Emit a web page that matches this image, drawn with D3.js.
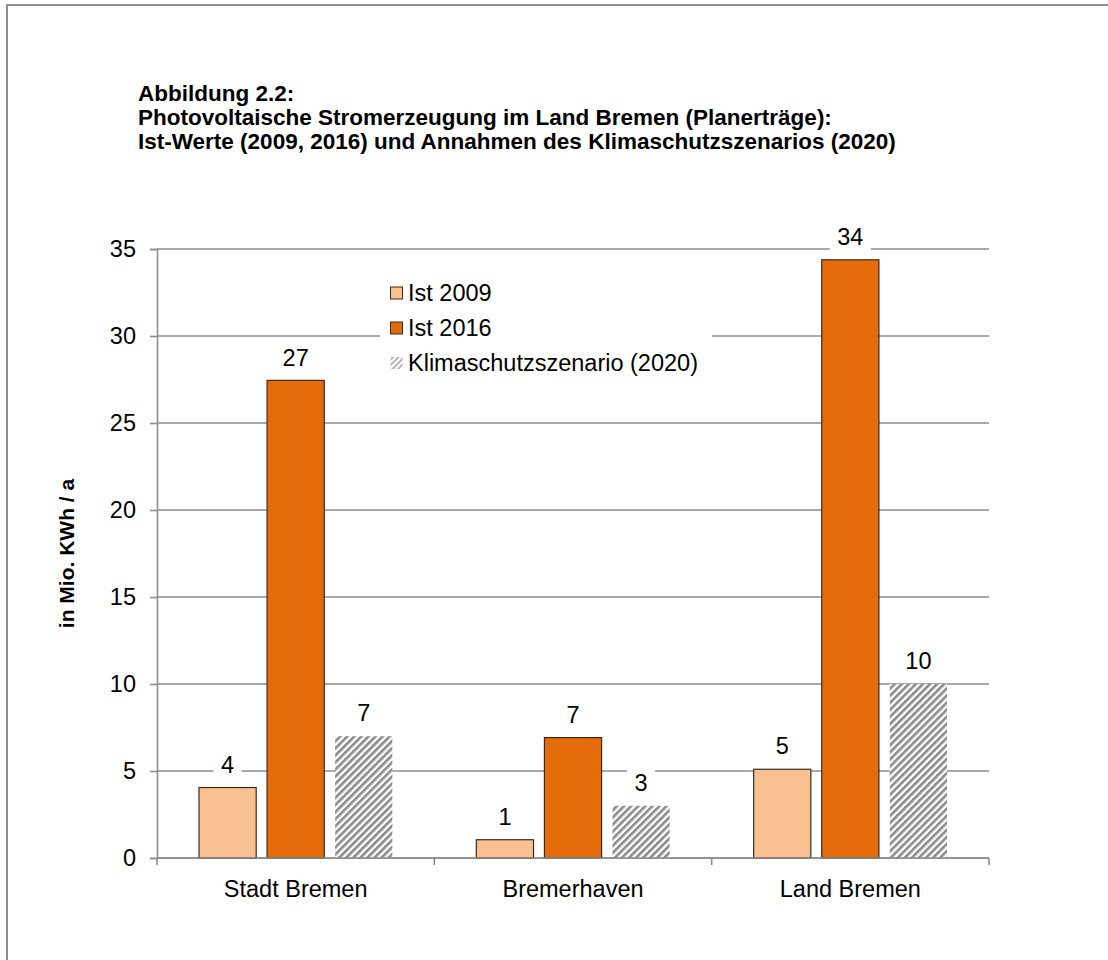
<!DOCTYPE html>
<html>
<head>
<meta charset="utf-8">
<script src="https://cdn.jsdelivr.net/npm/d3@7"></script>
<style>
  html, body { margin: 0; padding: 0; background: #fff; }
  svg { display: block; font-family: "Liberation Sans", Arial, sans-serif; }
</style>
</head>
<body>
<svg id="chart" width="1108" height="960"></svg>
<script>
// Regions and series
const categories = ["Stadt Bremen", "Bremerhaven", "Land Bremen"];
const seriesNames = ["Ist 2009", "Ist 2016", "Klimaschutzszenario (2020)"];
const ist2009 = [4.05, 1.05, 5.1];
const ist2016 = [27.45, 6.92, 34.38];
const szenario2020 = [7.0, 3.0, 10.0];
const valueLabels2009 = ["4", "1", "5"];
const valueLabels2016 = ["27", "7", "34"];
const valueLabels2020 = ["7", "3", "10"];
const yTicks = [0, 5, 10, 15, 20, 25, 30, 35];
const titleLines = [
  "Abbildung 2.2:",
  "Photovoltaische Stromerzeugung im Land Bremen (Planerträge):",
  "Ist-Werte (2009, 2016) und Annahmen des Klimaschutzszenarios (2020)"
];
const yAxisTitle = "in Mio. KWh / a";

const FONT = 23.5;
const svg = d3.select("#chart");

// Hatch pattern for the scenario bars
const defs = svg.append("defs");
const hatch = defs.append("pattern")
  .attr("id", "hatch")
  .attr("patternUnits", "userSpaceOnUse")
  .attr("width", 5).attr("height", 5)
  .attr("patternTransform", "rotate(45)");
hatch.append("rect").attr("width", 5).attr("height", 5).attr("fill", "#fff");
hatch.append("rect").attr("x", 0).attr("width", 2.6).attr("height", 5).attr("fill", "#8a8a8a");

const hatchLight = defs.append("pattern")
  .attr("id", "hatchLight")
  .attr("patternUnits", "userSpaceOnUse")
  .attr("width", 4).attr("height", 4)
  .attr("patternTransform", "rotate(45)");
hatchLight.append("rect").attr("width", 4).attr("height", 4).attr("fill", "#fff");
hatchLight.append("rect").attr("width", 2).attr("height", 4).attr("fill", "#b5b5b5");

// Outer frame
svg.append("rect")
  .attr("x", 7).attr("y", 5)
  .attr("width", 1200).attr("height", 1100)
  .attr("fill", "none")
  .attr("stroke", "#8c8c8c")
  .attr("stroke-width", 2);

// Title
svg.append("g").selectAll("text")
  .data(titleLines)
  .join("text")
  .attr("x", 138)
  .attr("y", (d, i) => 101 + i * 24)
  .attr("font-size", 22.5)
  .attr("font-weight", "bold")
  .attr("fill", "#000")
  .text(d => d);

// Plot area
const plot = { left: 157, right: 989, top: 249, bottom: 858 };

const x0 = d3.scaleBand()
  .domain(categories)
  .range([plot.left, plot.right])
  .paddingInner(0)
  .paddingOuter(0);

const x1 = d3.scaleBand()
  .domain(seriesNames)
  .range([42, x0.bandwidth() - 42])
  .paddingInner(0.16)
  .paddingOuter(0);

const y = d3.scaleLinear()
  .domain([0, 35])
  .range([plot.bottom, plot.top]);

// Horizontal gridlines
svg.append("g").selectAll("line")
  .data(yTicks.filter(t => t > 0))
  .join("line")
  .attr("x1", plot.left).attr("x2", plot.right)
  .attr("y1", d => y(d)).attr("y2", d => y(d))
  .attr("stroke", "#8c8c8c")
  .attr("stroke-width", 1.6);

// Y axis
const yAxis = d3.axisLeft(y).tickValues(yTicks).tickSize(7).tickPadding(14);
const yg = svg.append("g")
  .attr("transform", `translate(${plot.left},0)`)
  .call(yAxis);
yg.select(".domain").attr("stroke", "#8c8c8c").attr("stroke-width", 1.6);
yg.selectAll(".tick line").attr("stroke", "#8c8c8c").attr("stroke-width", 1.6);
yg.selectAll(".tick text")
  .attr("font-size", FONT)
  .attr("font-family", "Liberation Sans, Arial, sans-serif")
  .attr("fill", "#000");

// X axis
const xAxis = d3.axisBottom(x0).tickSize(0).tickPadding(22);
const xg = svg.append("g")
  .attr("transform", `translate(0,${plot.bottom})`)
  .call(xAxis);
xg.select(".domain").remove();
xg.selectAll(".tick text")
  .attr("font-size", FONT)
  .attr("font-family", "Liberation Sans, Arial, sans-serif")
  .attr("fill", "#000");
xg.append("line")
  .attr("x1", plot.left).attr("x2", plot.right)
  .attr("y1", 0).attr("y2", 0)
  .attr("stroke", "#8c8c8c").attr("stroke-width", 1.6);
xg.selectAll("line.sep")
  .data(categories.map((c, i) => i).concat([categories.length]))
  .join("line")
  .attr("class", "sep")
  .attr("x1", i => plot.left + i * x0.bandwidth())
  .attr("x2", i => plot.left + i * x0.bandwidth())
  .attr("y1", 0).attr("y2", 7)
  .attr("stroke", "#8c8c8c").attr("stroke-width", 1.6);

// Y axis title
svg.append("text")
  .attr("transform", `translate(74,${(plot.top + plot.bottom) / 2}) rotate(-90)`)
  .attr("text-anchor", "middle")
  .attr("font-size", 21)
  .attr("font-weight", "bold")
  .attr("fill", "#000")
  .text(yAxisTitle);

// Bars
const series = [
  { name: seriesNames[0], values: ist2009, labels: valueLabels2009, fill: "#F9C091", stroke: "#3b2a1c" },
  { name: seriesNames[1], values: ist2016, labels: valueLabels2016, fill: "#E46C0A", stroke: "#3b2a1c" },
  { name: seriesNames[2], values: szenario2020, labels: valueLabels2020, fill: "url(#hatch)", stroke: "none" }
];

const rows = [];
series.forEach(s => {
  categories.forEach((c, i) => {
    rows.push({ cat: c, series: s, value: s.values[i], label: s.labels[i] });
  });
});

svg.append("g").selectAll("rect")
  .data(rows)
  .join("rect")
  .attr("x", d => x0(d.cat) + x1(d.series.name))
  .attr("y", d => y(d.value))
  .attr("width", x1.bandwidth())
  .attr("height", d => y(0) - y(d.value))
  .attr("fill", d => d.series.fill)
  .attr("stroke", d => d.series.stroke)
  .attr("stroke-width", 1.2);

// Redraw baseline over bar bottoms
svg.append("line")
  .attr("x1", plot.left).attr("x2", plot.right)
  .attr("y1", plot.bottom).attr("y2", plot.bottom)
  .attr("stroke", "#8c8c8c").attr("stroke-width", 1.6);

// Value labels with white backing
const labelG = svg.append("g").selectAll("g")
  .data(rows)
  .join("g")
  .attr("transform", d => `translate(${x0(d.cat) + x1(d.series.name) + x1.bandwidth() / 2},${y(d.value) - 23})`);
labelG.append("text")
  .attr("text-anchor", "middle")
  .attr("dy", "0.35em")
  .attr("font-size", FONT)
  .attr("fill", "#000")
  .text(d => d.label);
labelG.each(function() {
  const g = d3.select(this);
  const bb = g.select("text").node().getBBox();
  g.insert("rect", "text")
    .attr("x", bb.x - 7.5).attr("y", bb.y - 1)
    .attr("width", bb.width + 15).attr("height", bb.height + 2)
    .attr("fill", "#fff");
});

// Legend
const legend = svg.append("g").attr("transform", "translate(380,274)");
legend.append("rect")
  .attr("x", 0).attr("y", 0)
  .attr("width", 332).attr("height", 108)
  .attr("fill", "#fff");
const legendFills = [
  { fill: "#F9C091", stroke: "#3b2a1c" },
  { fill: "#E46C0A", stroke: "#3b2a1c" },
  { fill: "url(#hatchLight)", stroke: "none" }
];
const li = legend.selectAll("g.item")
  .data(seriesNames)
  .join("g")
  .attr("class", "item")
  .attr("transform", (d, i) => `translate(0,${19 + i * 35})`);
li.append("rect")
  .attr("x", 10.5).attr("y", -6)
  .attr("width", 12).attr("height", 12)
  .attr("fill", (d, i) => legendFills[i].fill)
  .attr("stroke", (d, i) => legendFills[i].stroke)
  .attr("stroke-width", 1);
li.append("text")
  .attr("x", 28)
  .attr("dy", "0.35em")
  .attr("font-size", FONT)
  .attr("fill", "#000")
  .text(d => d);
</script>
</body>
</html>
